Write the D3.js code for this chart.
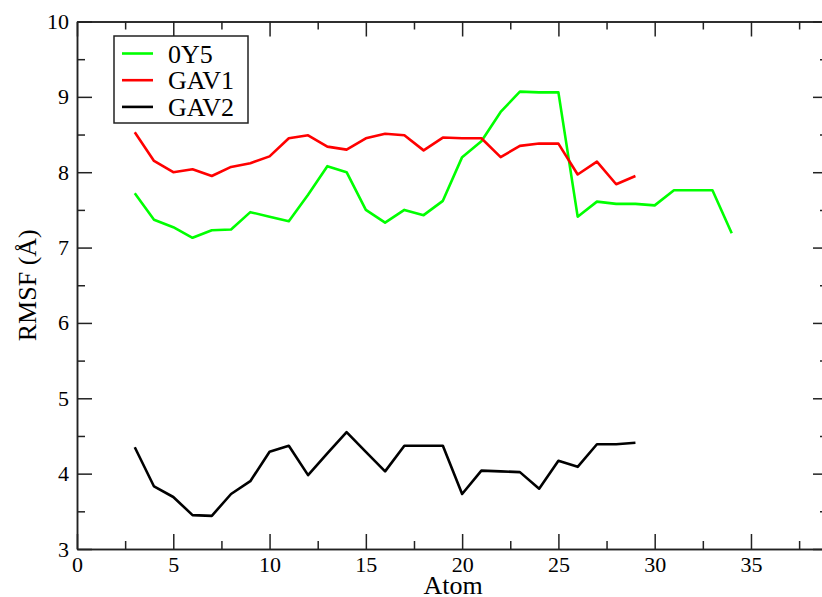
<!DOCTYPE html>
<html>
<head>
<meta charset="utf-8">
<script src="https://cdn.jsdelivr.net/npm/d3@7"></script>
<style>
    body { margin: 0; background: #fff; }
    .axis path, .axis line { stroke: #222; stroke-width: 1.5; }
</style>
</head>
<body>
<svg id="chart" width="822" height="597"></svg>
<script>
// atoms for each series
const atomsY5 = d3.range(3, 35);
const atomsGAV = d3.range(3, 30);

const rmsf0Y5 = [7.72, 7.37, 7.27, 7.13, 7.23, 7.24, 7.47, 7.41, 7.35, 7.70, 8.08, 8.00, 7.50,
    7.33, 7.50, 7.43, 7.62, 8.20, 8.41, 8.80, 9.07, 9.06, 9.06, 7.41, 7.61, 7.58, 7.58, 7.56,
    7.76, 7.76, 7.76, 7.19];
const rmsfGAV1 = [8.53, 8.15, 8.00, 8.04, 7.95, 8.07, 8.12, 8.21, 8.45, 8.49, 8.34, 8.30, 8.45,
    8.51, 8.49, 8.29, 8.46, 8.45, 8.45, 8.20, 8.35, 8.38, 8.38, 7.97, 8.14, 7.84, 7.95];
const rmsfGAV2 = [4.35, 3.83, 3.69, 3.45, 3.44, 3.73, 3.90, 4.29, 4.37, 3.98, 4.27, 4.55, 4.29,
    4.03, 4.37, 4.37, 4.37, 3.73, 4.04, 4.03, 4.02, 3.80, 4.17, 4.09, 4.39, 4.39, 4.41];

const seriesNames = ["0Y5", "GAV1", "GAV2"];
const seriesColors = ["#00ff00", "#ff0000", "#000000"];

const xMajor = [0, 5, 10, 15, 20, 25, 30, 35];
const xMinor = [2.5, 7.5, 12.5, 17.5, 22.5, 27.5, 32.5, 37.5];
const yMajor = [3, 4, 5, 6, 7, 8, 9, 10];
const yMinor = [3.5, 4.5, 5.5, 6.5, 7.5, 8.5, 9.5];

const series = [
    {name: seriesNames[0], color: seriesColors[0], values: atomsY5.map((a, i) => ({x: a, y: rmsf0Y5[i]}))},
    {name: seriesNames[1], color: seriesColors[1], values: atomsGAV.map((a, i) => ({x: a, y: rmsfGAV1[i]}))},
    {name: seriesNames[2], color: seriesColors[2], values: atomsGAV.map((a, i) => ({x: a, y: rmsfGAV2[i]}))}
];

const serif = "'Liberation Serif', 'Times New Roman', serif";

const svg = d3.select("#chart");
const plotLeft = 77, plotRight = 828, plotTop = 21.5, plotBottom = 549;

const x = d3.scaleLinear().domain([0, 39]).range([plotLeft, plotRight]);
const y = d3.scaleLinear().domain([3, 10]).range([plotBottom, plotTop]);

// data lines
const line = d3.line().x(d => x(d.x)).y(d => y(d.y));
svg.append("g").selectAll("path")
    .data(series)
    .enter()
    .append("path")
    .attr("d", d => line(d.values))
    .attr("fill", "none")
    .attr("stroke", d => d.color)
    .attr("stroke-width", 2.6)
    .attr("stroke-linejoin", "round");

// axes, ticks pointing inward on all sides
function addAxis(axis, tx, ty) {
    const g = svg.append("g")
        .attr("class", "axis")
        .attr("transform", "translate(" + tx + "," + ty + ")")
        .call(axis);
    g.attr("font-family", serif).attr("font-size", 22);
    g.selectAll("text").attr("fill", "#000");
    return g;
}

addAxis(d3.axisBottom(x).tickValues(xMajor).tickSizeInner(-15).tickSizeOuter(0).tickPadding(7).tickFormat(d3.format("d")), 0, plotBottom);
addAxis(d3.axisBottom(x).tickValues(xMinor).tickSizeInner(-8).tickSizeOuter(0).tickFormat(""), 0, plotBottom);
addAxis(d3.axisTop(x).tickValues(xMajor).tickSizeInner(-15).tickSizeOuter(0).tickFormat(""), 0, plotTop);
addAxis(d3.axisTop(x).tickValues(xMinor).tickSizeInner(-8).tickSizeOuter(0).tickFormat(""), 0, plotTop);

addAxis(d3.axisLeft(y).tickValues(yMajor).tickSizeInner(-15).tickSizeOuter(0).tickPadding(8).tickFormat(d3.format("d")), plotLeft, 0);
addAxis(d3.axisLeft(y).tickValues(yMinor).tickSizeInner(-8).tickSizeOuter(0).tickFormat(""), plotLeft, 0);
addAxis(d3.axisRight(y).tickValues(yMajor).tickSizeInner(-15).tickSizeOuter(0).tickFormat(""), plotRight, 0);
addAxis(d3.axisRight(y).tickValues(yMinor).tickSizeInner(-8).tickSizeOuter(0).tickFormat(""), plotRight, 0);

// axis titles
svg.append("text")
    .attr("x", 453)
    .attr("y", 594)
    .attr("text-anchor", "middle")
    .style("font-family", serif)
    .style("font-size", "26px")
    .text("Atom");

svg.append("text")
    .attr("transform", "translate(36," + ((plotTop + plotBottom) / 2) + ") rotate(-90)")
    .attr("text-anchor", "middle")
    .style("font-family", serif)
    .style("font-size", "26px")
    .text("RMSF (Å)");

// legend
const legend = svg.append("g").attr("transform", "translate(114,36)");
legend.append("rect")
    .attr("width", 134)
    .attr("height", 87)
    .attr("fill", "#fff")
    .attr("stroke", "#222")
    .attr("stroke-width", 1.5);

const rows = legend.selectAll(".row")
    .data(series)
    .enter()
    .append("g")
    .attr("class", "row")
    .attr("transform", (d, i) => "translate(0," + (17.5 + i * 26.7) + ")");

rows.append("line")
    .attr("x1", 8).attr("x2", 39)
    .attr("stroke", d => d.color)
    .attr("stroke-width", 2.6);

rows.append("text")
    .attr("x", 54)
    .attr("y", 9)
    .style("font-family", serif)
    .style("font-size", "26px")
    .text(d => d.name);
</script>
</body>
</html>
